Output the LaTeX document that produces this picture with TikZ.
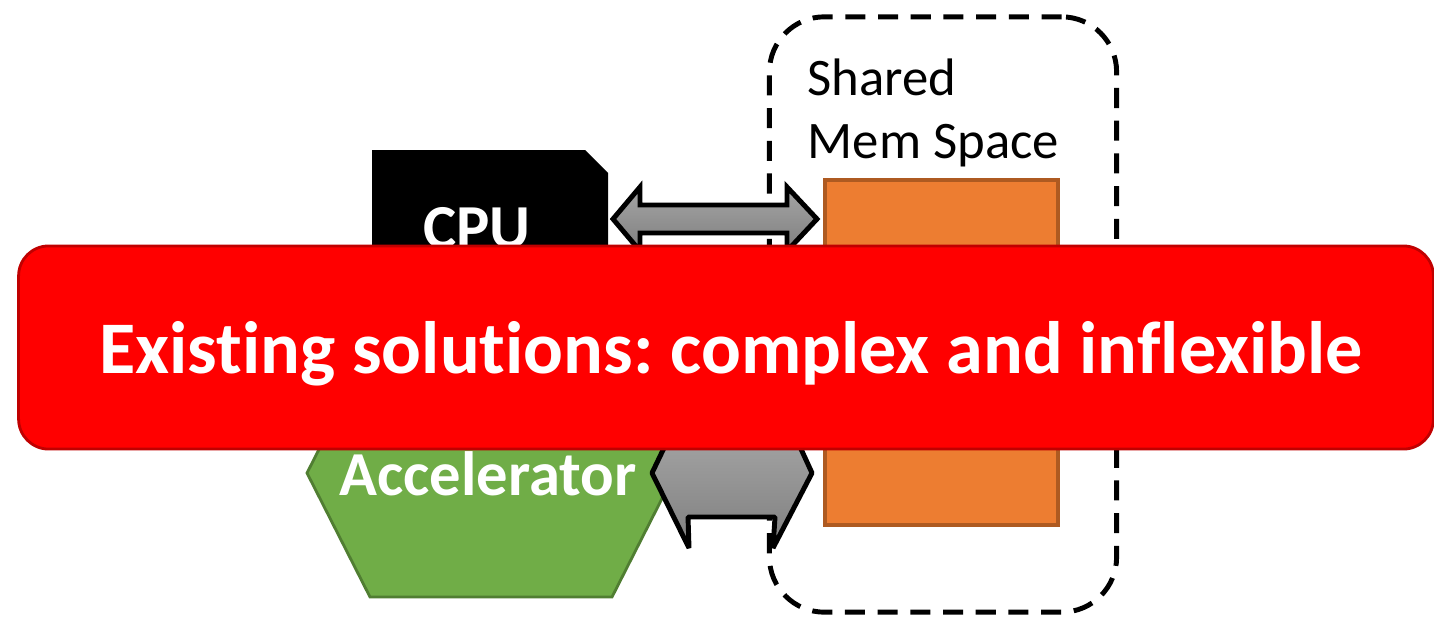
\documentclass[tikz,border=0pt]{standalone}
\usepackage{fontspec}
\setmainfont[Ligatures=NoCommon]{Carlito}
\usetikzlibrary{positioning}
\definecolor{memorange}{HTML}{ED7D31}
\definecolor{memedge}{HTML}{AE5A21}
\definecolor{accgreen}{HTML}{70AD47}
\definecolor{accedge}{HTML}{507E32}
\definecolor{bannerred}{HTML}{FF0000}
\definecolor{banneredge}{HTML}{C00000}
\definecolor{linktop}{HTML}{A6A6A6}
\definecolor{linkbot}{HTML}{7F7F7F}
\frenchspacing

\begin{document}
\begin{tikzpicture}[x=0.01cm,y=-0.01cm,
		link/.style={draw=black,line width=1.4pt,top color=linktop,bottom color=linkbot},
		bold label/.style={text=white,font=\fontsize{17.8}{20}\selectfont\bfseries,inner sep=0pt}]
	\useasboundingbox (0,0) rectangle (1434,621);
	% shared memory space
	\node[draw,line width=1.4pt,dash pattern=on 5.7pt off 3.6pt,rounded corners=0.55cm,
		minimum width=3.47cm,minimum height=5.95cm] (space) at (943,314.5) {};
	\node[anchor=base west,align=left,inner sep=0pt,font=\fontsize{15}{17.9}\selectfont]
		(spacelabel) at (807,158) {Shared\\Mem Space};
	\node[draw=memedge,fill=memorange,line width=1.1pt,
		minimum width=2.33cm,minimum height=3.45cm] (mem) at (941.5,352.5) {};
	% CPU
	\fill[black] (372,150) -- (585,150) -- (608,173) -- (608,400) -- (372,400) -- cycle;
	\node[bold label,anchor=base] (cpu) at (477,248) {CPU};
	\path[link] (613,219) -- (640,187) -- (640,205) -- (787,205) -- (787,187) -- (817,219)
		-- (787,251) -- (787,233) -- (640,233) -- (640,251) -- cycle;
	% accelerator
	\path[fill=accgreen,draw=accedge,line width=0.8pt] (307,473) -- (370,349) -- (612,349)
		-- (675,473) -- (612,597) -- (370,597) -- cycle;
	\node[bold label,anchor=base] (acc) at (488,495) {Accelerator};
	\path[link,line join=bevel] (675,425) -- (790,425) -- (812,473) -- (773,548) -- (775,517)
		-- (688,517) -- (689,548) -- (652,473) -- cycle;
	% banner
	\node[draw=banneredge,fill=bannerred,line width=0.8pt,rounded corners=0.3cm,
		minimum width=14.14cm,minimum height=2.03cm] (banner) at (726,347.5) {};
	\node[text=white,anchor=base,inner sep=0pt,font=\fontsize{21.1}{25}\selectfont\bfseries]
		(bannertext) at (731,373) {Existing solutions: complex and inflexible};
\end{tikzpicture}
\end{document}
